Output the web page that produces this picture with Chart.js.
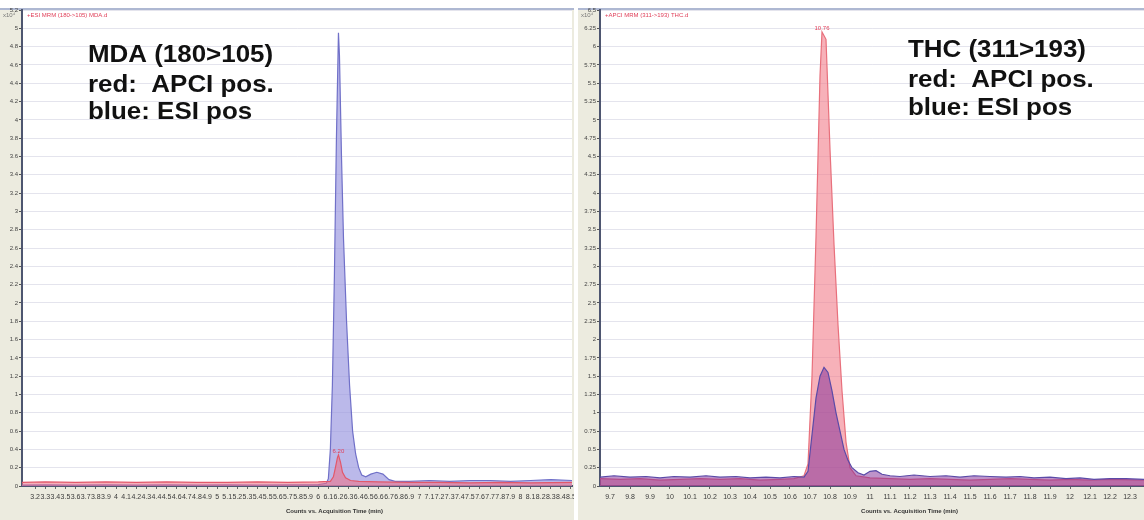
<!DOCTYPE html>
<html><head><meta charset="utf-8">
<script src="https://cdn.jsdelivr.net/npm/chart.js@4.4.0/dist/chart.umd.min.js"></script>
<style>
html,body{margin:0;padding:0;background:#fff;width:1144px;height:520px;overflow:hidden}
#l{position:absolute;left:0;top:0;width:574px;height:520px}
#r{position:absolute;left:578px;top:0;width:566px;height:520px}
</style></head><body>
<div id="l"><canvas id="cl"></canvas></div>
<div id="r"><canvas id="cr"></canvas></div>
<script>
// ---- data: [time (min), counts x10^4] ----
const mdaESI = [[3.07,0.01],[3.3,0.012],[3.6,0.01],[3.9,0.012],[4.2,0.01],[4.5,0.012],[4.8,0.01],[5.1,0.012],[5.4,0.01],[5.7,0.012],[6.0,0.015],[6.08,0.03],
 [6.10,0.08],[6.12,0.4],[6.14,1.1],[6.16,2.3],[6.18,3.8],[6.20,4.95],[6.21,4.7],[6.23,3.6],[6.25,2.7],[6.28,1.8],[6.31,1.1],[6.34,0.6],[6.37,0.35],[6.40,0.2],[6.43,0.12],
 [6.47,0.1],[6.52,0.13],[6.58,0.15],[6.64,0.13],[6.70,0.07],[6.76,0.05],[6.9,0.05],[7.1,0.06],[7.3,0.05],[7.5,0.06],[7.7,0.06],[7.9,0.05],[8.1,0.06],[8.3,0.07],[8.51,0.06]];
const mdaAPCI = [[3.07,0.04],[3.3,0.045],[3.6,0.04],[3.9,0.045],[4.2,0.04],[4.5,0.045],[4.8,0.04],[5.1,0.04],[5.4,0.045],[5.7,0.04],[6.0,0.045],[6.12,0.05],
 [6.15,0.1],[6.17,0.2],[6.19,0.31],[6.20,0.34],[6.22,0.26],[6.24,0.15],[6.27,0.09],[6.32,0.06],[6.4,0.05],[6.6,0.045],[6.9,0.04],[7.2,0.04],[7.5,0.035],[7.8,0.04],[8.1,0.035],[8.51,0.04]];
const thcAPCI = [[9.65,0.1],[9.75,0.09],[9.85,0.1],[9.95,0.08],[10.05,0.09],[10.15,0.1],[10.25,0.09],[10.35,0.1],[10.45,0.08],[10.55,0.09],[10.62,0.1],[10.67,0.14],
 [10.69,0.3],[10.71,1.5],[10.73,3.4],[10.75,5.6],[10.76,6.2],[10.78,6.1],[10.80,4.6],[10.82,3.3],[10.84,2.2],[10.86,1.3],[10.88,0.6],[10.90,0.25],[10.93,0.14],
 [11.0,0.11],[11.1,0.1],[11.2,0.09],[11.3,0.1],[11.4,0.09],[11.5,0.08],[11.6,0.09],[11.7,0.1],[11.8,0.09],[11.9,0.08],[12.0,0.09],[12.1,0.08],[12.2,0.09],[12.37,0.08]];
const thcESI = [[9.65,0.12],[9.72,0.14],[9.8,0.12],[9.88,0.13],[9.95,0.11],[10.02,0.13],[10.1,0.12],[10.18,0.14],[10.25,0.12],[10.33,0.13],[10.4,0.11],[10.48,0.12],[10.55,0.11],[10.62,0.13],[10.67,0.12],
 [10.69,0.2],[10.71,0.7],[10.73,1.2],[10.75,1.5],[10.77,1.62],[10.79,1.55],[10.81,1.3],[10.83,1.0],[10.85,0.75],[10.87,0.5],[10.89,0.35],[10.91,0.25],[10.94,0.18],[10.97,0.15],
 [11.0,0.2],[11.03,0.21],[11.06,0.16],[11.1,0.14],[11.15,0.13],[11.22,0.15],[11.3,0.13],[11.38,0.14],[11.45,0.12],[11.52,0.14],[11.6,0.13],[11.68,0.12],[11.75,0.13],[11.82,0.11],[11.9,0.12],[11.98,0.1],[12.05,0.11],[12.12,0.09],[12.2,0.1],[12.28,0.1],[12.37,0.09]];

// ---- tick labels ----
const leftXTicks = [3.2,3.3,3.4,3.5,3.6,3.7,3.8,3.9,4,4.1,4.2,4.3,4.4,4.5,4.6,4.7,4.8,4.9,5,5.1,5.2,5.3,5.4,5.5,5.6,5.7,5.8,5.9,6,6.1,6.2,6.3,6.4,6.5,6.6,6.7,6.8,6.9,7,7.1,7.2,7.3,7.4,7.5,7.6,7.7,7.8,7.9,8,8.1,8.2,8.3,8.4,8.5];
const rightXTicks = [9.7,9.8,9.9,10,10.1,10.2,10.3,10.4,10.5,10.6,10.7,10.8,10.9,11,11.1,11.2,11.3,11.4,11.5,11.6,11.7,11.8,11.9,12,12.1,12.2,12.3];
const leftYTicks = [0,0.2,0.4,0.6,0.8,1,1.2,1.4,1.6,1.8,2,2.2,2.4,2.6,2.8,3,3.2,3.4,3.6,3.8,4,4.2,4.4,4.6,4.8,5,5.2];
const rightYTicks = [0,0.25,0.5,0.75,1,1.25,1.5,1.75,2,2.25,2.5,2.75,3,3.25,3.5,3.75,4,4.25,4.5,4.75,5,5.25,5.5,5.75,6,6.25,6.5];

const leftText = ['MDA (180>105)','red:  APCI pos.','blue: ESI pos'];
const rightText = ['THC (311>193)','red:  APCI pos.','blue: ESI pos'];

const NARROW = '"Liberation Sans Narrow","Liberation Sans",Arial,sans-serif';

function overlay(o){
  return {
    id:'ov'+o.key,
    beforeDraw(c){
      const ctx=c.ctx,a=c.chartArea;
      ctx.save();
      ctx.fillStyle='#ecebdf'; ctx.fillRect(0,0,c.width,c.height);
      ctx.fillStyle='#fff'; ctx.fillRect(0,0,c.width,9);
      ctx.fillRect(a.left,a.top,a.right-a.left,a.bottom-a.top);
      ctx.strokeStyle='#aeb8d2'; ctx.lineWidth=2;
      ctx.beginPath(); ctx.moveTo(0,9); ctx.lineTo(c.width,9); ctx.stroke();
      ctx.restore();
    },
    afterDraw(c){
      const ctx=c.ctx,a=c.chartArea;
      ctx.save();
      ctx.font='6px '+NARROW; ctx.fillStyle='#e0405a'; ctx.textBaseline='top'; ctx.textAlign='left';
      ctx.fillText(o.title,a.left+5,a.top+2);
      ctx.fillStyle='#777'; ctx.fillText('x10\u2074',3,a.top+2);
      ctx.font='bold 6px '+NARROW; ctx.fillStyle='#333';
      ctx.fillText('Counts vs. Acquisition Time (min)',a.left+(a.right-a.left)*0.48,508);
      const pk=o.peak.reduce((m,p)=>p[1]>m[1]?p:m);
      ctx.font='6px '+NARROW; ctx.fillStyle='#e0405a'; ctx.textAlign='center'; ctx.textBaseline='bottom';
      ctx.fillText(pk[0].toFixed(2),c.scales.x.getPixelForValue(pk[0]),c.scales.y.getPixelForValue(pk[1])-1);
      ctx.font='bold 24px "Liberation Sans",Arial,sans-serif'; ctx.fillStyle='#111'; ctx.textAlign='left'; ctx.textBaseline='alphabetic';
      o.lines.forEach((t,i)=>{
        ctx.save(); ctx.translate(o.tx,o.ty[i]); ctx.scale(1.08,1); ctx.fillText(t,0,0); ctx.restore();
      });
      ctx.restore();
    }
  };
}

function make(id,o){
  const xs=o.xTicks, ys=o.yTicks;
  return new Chart(document.getElementById(id),{
    type:'line',
    data:{datasets:o.datasets},
    options:{
      responsive:true,maintainAspectRatio:false,animation:false,devicePixelRatio:1,
      layout:{padding:{top:10,right:o.padRight,left:0,bottom:0}},
      plugins:{legend:{display:false},tooltip:{enabled:false}},
      elements:{point:{radius:0},line:{tension:0}},
      scales:{
        x:{type:'linear',min:o.xMin,max:o.xMax,
          afterBuildTicks:s=>{s.ticks=xs.map(v=>({value:v}));},
          afterFit:s=>{s.height=34;s.paddingLeft=0;s.paddingRight=0;},
          grid:{drawOnChartArea:false,drawTicks:true,tickLength:3,tickColor:'#666'},
          border:{color:'#4e5670',width:2},
          ticks:{autoSkip:false,maxRotation:0,minRotation:0,padding:4,color:'#3a3a3a',font:{size:7,family:NARROW},callback:v=>String(v)}},
        y:{type:'linear',min:0,max:ys[ys.length-1],
          afterBuildTicks:s=>{s.ticks=ys.map(v=>({value:v}));},
          afterFit:s=>{s.width=22;},
          grid:{color:'rgba(205,205,222,0.55)',tickColor:'#555',tickLength:3},
          border:{color:'#4e5670',width:2},
          ticks:{autoSkip:false,padding:1,color:'#444',font:{size:6,family:NARROW},callback:v=>String(v)}}
      }
    },
    plugins:[overlay(o)]
  });
}

const pts=a=>a.map(p=>({x:p[0],y:p[1]}));

make('cl',{key:'l',xMin:3.07,xMax:8.51,padRight:2,xTicks:leftXTicks,yTicks:leftYTicks,
  title:'+ESI MRM (180->105) MDA.d',peak:mdaAPCI,lines:leftText,tx:88,ty:[62,92,119],
  datasets:[
    {label:'APCI pos',data:pts(mdaAPCI),borderColor:'#e2586a',borderWidth:1.2,backgroundColor:'rgba(240,110,130,0.55)',fill:'origin'},
    {label:'ESI pos',data:pts(mdaESI),borderColor:'#7070c8',borderWidth:1.2,backgroundColor:'rgba(150,148,222,0.65)',fill:'origin'}
  ]});

make('cr',{key:'r',xMin:9.65,xMax:12.37,padRight:0,xTicks:rightXTicks,yTicks:rightYTicks,
  title:'+APCI MRM (311->193) THC.d',peak:thcAPCI,lines:rightText,tx:330,ty:[57,87,115],
  datasets:[
    {label:'ESI pos',data:pts(thcESI),borderColor:'#5a4aa8',borderWidth:1.2,backgroundColor:'rgba(125,40,150,0.5)',fill:'origin'},
    {label:'APCI pos',data:pts(thcAPCI),borderColor:'#e8707c',borderWidth:1.2,backgroundColor:'rgba(242,125,138,0.6)',fill:'origin'}
  ]});
</script>
</body></html>
